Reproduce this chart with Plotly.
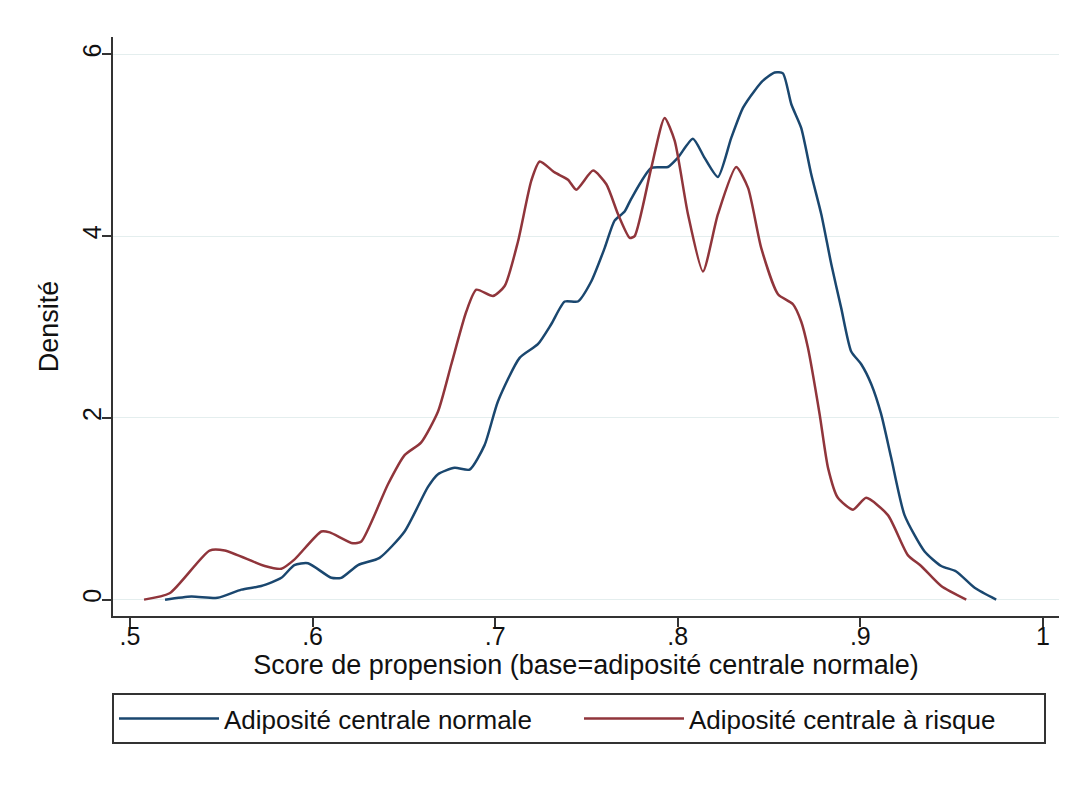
import plotly.graph_objects as go

# kernel density, adiposité centrale normale (blue)
x_normale = [0.5192, 0.5336, 0.548, 0.561, 0.5719, 0.5829, 0.590, 0.5975, 0.6103, 0.6157,
             0.6249, 0.6367, 0.6504, 0.6632, 0.6687, 0.6778, 0.686, 0.6942, 0.7015, 0.7134,
             0.7234, 0.7307, 0.7381, 0.7453, 0.7526, 0.760, 0.7654, 0.7709, 0.7745, 0.7855,
             0.7946, 0.800, 0.8083, 0.8147, 0.822, 0.8293, 0.8357, 0.8421, 0.8467, 0.8531,
             0.8576, 0.8622, 0.8676, 0.8731, 0.8786, 0.8841, 0.8895, 0.895, 0.9005, 0.906,
             0.9114, 0.9169, 0.9242, 0.9352, 0.9443, 0.9525, 0.9626, 0.9744]
y_normale = [0.0, 0.035, 0.02, 0.11, 0.15, 0.24, 0.38, 0.40, 0.24, 0.24,
             0.38, 0.46, 0.75, 1.24, 1.38, 1.45, 1.43, 1.70, 2.18, 2.66,
             2.81, 3.03, 3.28, 3.28, 3.50, 3.87, 4.17, 4.27, 4.41, 4.75,
             4.76, 4.86, 5.07, 4.86, 4.65, 5.08, 5.41, 5.60, 5.71, 5.80,
             5.79, 5.45, 5.19, 4.68, 4.24, 3.69, 3.21, 2.73, 2.59, 2.37,
             2.04, 1.56, 0.93, 0.53, 0.37, 0.31, 0.13, 0.0]

# kernel density, adiposité centrale à risque (red)
x_risque = [0.5077, 0.5217, 0.5436, 0.5519, 0.5738, 0.5829, 0.590, 0.6048, 0.6094, 0.6221,
            0.6267, 0.6413, 0.6504, 0.6595, 0.6687, 0.676, 0.6842, 0.6897, 0.6988, 0.7052,
            0.7125, 0.7198, 0.7244, 0.7326, 0.7399, 0.7444, 0.7536, 0.7609, 0.7673, 0.7737,
            0.7764, 0.7855, 0.7928, 0.7983, 0.8056, 0.8138, 0.8220, 0.8320, 0.8385, 0.8457,
            0.8549, 0.8631, 0.8676, 0.8713, 0.8777, 0.8823, 0.8877, 0.8960, 0.9032, 0.9151,
            0.9260, 0.9333, 0.9443, 0.958]
y_risque = [0.0, 0.07, 0.54, 0.54, 0.37, 0.34, 0.44, 0.75, 0.74, 0.62,
            0.64, 1.27, 1.59, 1.73, 2.07, 2.59, 3.17, 3.41, 3.34, 3.45,
            3.94, 4.61, 4.82, 4.70, 4.62, 4.51, 4.72, 4.57, 4.24, 3.98,
            4.00, 4.75, 5.30, 5.05, 4.24, 3.61, 4.24, 4.76, 4.53, 3.87,
            3.36, 3.25, 3.06, 2.77, 2.04, 1.45, 1.12, 0.99, 1.12, 0.93,
            0.49, 0.37, 0.15, 0.0]

x_ticks = [0.5, 0.6, 0.7, 0.8, 0.9, 1.0]
x_labels = ['.5', '.6', '.7', '.8', '.9', '1']
y_ticks = [0, 2, 4, 6]

font = 'Liberation Sans, Arial, sans-serif'
fsize = 25

fig = go.Figure()
fig.add_trace(go.Scatter(x=x_normale, y=y_normale, mode='lines',
                         name='Adiposité centrale normale',
                         line=dict(color='#1a476f', width=2.5, shape='spline', smoothing=0.6)))
fig.add_trace(go.Scatter(x=x_risque, y=y_risque, mode='lines',
                         name='Adiposité centrale à risque',
                         line=dict(color='#90353b', width=2.5, shape='spline', smoothing=0.6)))

axis_common = dict(showline=True, linecolor='#333333', linewidth=1.5,
                   ticks='outside', ticklen=9, tickwidth=1.5, tickcolor='#333333',
                   zeroline=False, mirror=False,
                   tickfont=dict(family=font, size=fsize, color='#111111'),
                   title_font=dict(family=font, size=27, color='#111111'))

fig.update_xaxes(range=[0.4907, 1.0088], tickvals=x_ticks, ticktext=x_labels,
                 showgrid=False, ticklabelstandoff=-12,
                 title_text='Score de propension (base=adiposité centrale normale)',
                 title_standoff=4, **axis_common)
fig.update_yaxes(range=[-0.18, 6.19], tickvals=y_ticks, tickangle=-90,
                 showgrid=True, gridcolor='#e4eeee', gridwidth=1, ticklabelstandoff=-9,
                 title_text='Densité', title_standoff=12, **axis_common)

fig.update_layout(
    width=1079, height=785,
    margin=dict(l=105, r=28, t=29, b=177),
    paper_bgcolor='white', plot_bgcolor='white',
    font=dict(family=font, size=fsize, color='#111111'),
    legend=dict(orientation='h', x=0.4926, xanchor='center', y=-0.133, yanchor='top',
                bordercolor='#333333', borderwidth=2,
                entrywidth=350, entrywidthmode='pixels', itemwidth=100,
                font=dict(family=font, size=26, color='#111111')),
    showlegend=True,
)

fig.write_html('out.html')
